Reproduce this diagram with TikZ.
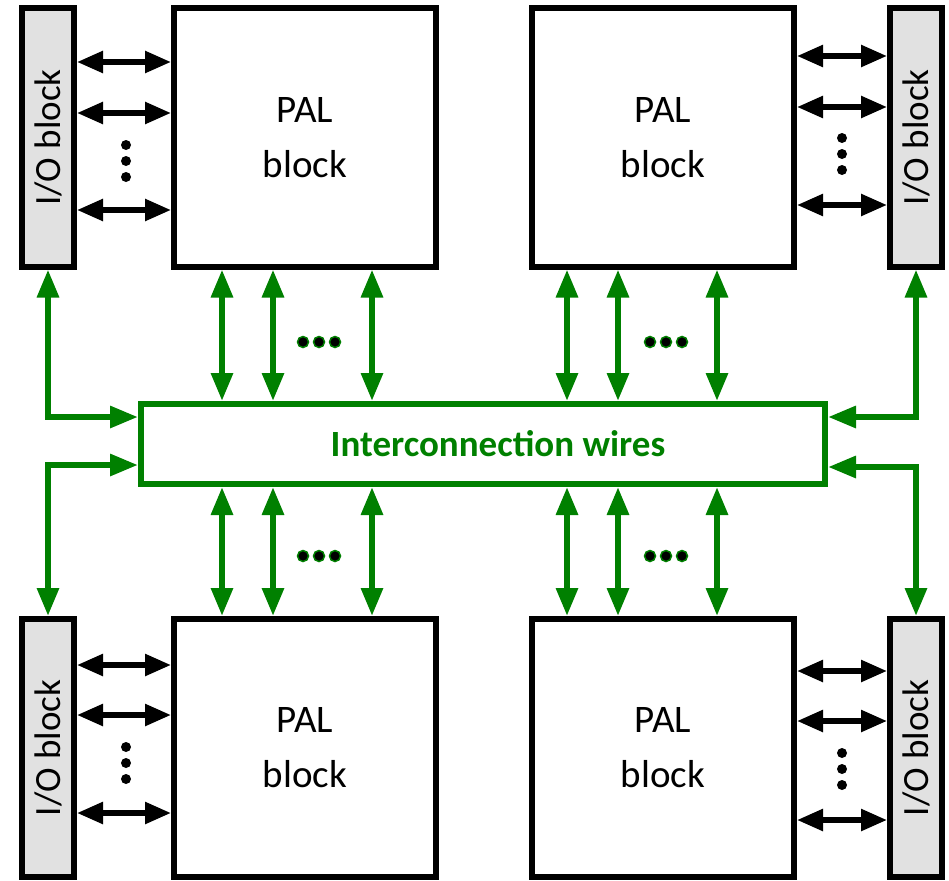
\documentclass[tikz,border=0pt]{standalone}
\usepackage{fontspec}
\setmainfont{Carlito}
\usepackage{graphicx}
\usetikzlibrary{arrows.meta}
\definecolor{wiregreen}{RGB}{0,128,0}
\definecolor{iogray}{RGB}{225,225,225}

\begin{document}
\begin{tikzpicture}[x=1pt, y=-1pt]

        \tikzset{palblock/.style={draw=black, line width=6pt, fill=white, minimum width=262pt, minimum height=258pt, inner sep=0pt, align=center, font=\fontsize{39}{55}\selectfont},
                 ioblock/.style={draw=black, line width=6pt, fill=iogray, minimum width=52pt, minimum height=258pt, inner sep=0pt, font=\fontsize{37}{44}\selectfont},
                 wirebox/.style={draw=wiregreen, line width=6pt, minimum width=684pt, minimum height=80pt, text=wiregreen, font=\bfseries\fontsize{37}{44}\selectfont},
                 bus/.style={line width=5.5pt, >={Triangle[length=26pt, width=21pt]}, <->},
                 gbus/.style={draw=wiregreen, line width=6pt, >={Triangle[length=28pt, width=21pt]}, <->},
                 bdot/.style={circle, fill=black, inner sep=0pt, minimum size=10pt},
                 gdot/.style={circle, fill=black, draw=wiregreen, line width=1.5pt, inner sep=0pt, minimum size=11pt}}

        \useasboundingbox (0, 0) rectangle (949, 880);

        % top row
        \node[ioblock] (iotl) at (48, 137.5) {\rotatebox{90}{I/O block}};
        \node[palblock] (paltl) at (305, 137.5) {PAL\\block};
        \node[palblock] (paltr) at (663, 137.5) {PAL\\block};
        \node[ioblock] (iotr) at (916, 137.5) {\rotatebox{90}{I/O block}};

        % bottom row
        \node[ioblock] (iobl) at (48, 748) {\rotatebox{90}{I/O block}};
        \node[palblock] (palbl) at (305, 748) {PAL\\block};
        \node[palblock] (palbr) at (663, 748) {PAL\\block};
        \node[ioblock] (iobr) at (916, 748) {\rotatebox{90}{I/O block}};

        % interconnect in the middle
        \node[wirebox] (wires) at (483, 444) {\hspace*{30pt}Interconnection wires};

        % I/O to PAL, top left
        \draw[bus] (iotl.east |- 0,62) -- (paltl.west |- 0,62);
        \draw[bus] (iotl.east |- 0,113) -- (paltl.west |- 0,113);
        \draw[bus] (iotl.east |- 0,210) -- (paltl.west |- 0,210);
        \node[bdot] (dtl1) at (126, 145) {};
        \node[bdot] (dtl2) at (126, 161) {};
        \node[bdot] (dtl3) at (126, 177) {};

        % top right
        \draw[bus] (paltr.east |- 0,56) -- (iotr.west |- 0,56);
        \draw[bus] (paltr.east |- 0,107) -- (iotr.west |- 0,107);
        \draw[bus] (paltr.east |- 0,205) -- (iotr.west |- 0,205);
        \node[bdot] (dtr1) at (842, 138) {};
        \node[bdot] (dtr2) at (842, 154) {};
        \node[bdot] (dtr3) at (842, 170) {};

        % bottom left
        \draw[bus] (iobl.east |- 0,665) -- (palbl.west |- 0,665);
        \draw[bus] (iobl.east |- 0,715) -- (palbl.west |- 0,715);
        \draw[bus] (iobl.east |- 0,813) -- (palbl.west |- 0,813);
        \node[bdot] (dbl1) at (126, 747) {};
        \node[bdot] (dbl2) at (126, 763) {};
        \node[bdot] (dbl3) at (126, 779) {};

        % bottom right
        \draw[bus] (palbr.east |- 0,671) -- (iobr.west |- 0,671);
        \draw[bus] (palbr.east |- 0,721) -- (iobr.west |- 0,721);
        \draw[bus] (palbr.east |- 0,820) -- (iobr.west |- 0,820);
        \node[bdot] (dbr1) at (842, 753) {};
        \node[bdot] (dbr2) at (842, 769) {};
        \node[bdot] (dbr3) at (842, 785) {};

        % PAL blocks to interconnect, upper half
        \draw[gbus] (paltl.south -| 222,0) -- (wires.north -| 222,0);
        \draw[gbus] (paltl.south -| 273,0) -- (wires.north -| 273,0);
        \draw[gbus] (paltl.south -| 372,0) -- (wires.north -| 372,0);
        \draw[gbus] (paltr.south -| 567,0) -- (wires.north -| 567,0);
        \draw[gbus] (paltr.south -| 618,0) -- (wires.north -| 618,0);
        \draw[gbus] (paltr.south -| 717,0) -- (wires.north -| 717,0);
        \node[gdot] (gtl1) at (303, 342) {};
        \node[gdot] (gtl2) at (319, 342) {};
        \node[gdot] (gtl3) at (335, 342) {};
        \node[gdot] (gtr1) at (650, 342) {};
        \node[gdot] (gtr2) at (666, 342) {};
        \node[gdot] (gtr3) at (682, 342) {};

        % lower half
        \draw[gbus] (wires.south -| 222,0) -- (palbl.north -| 222,0);
        \draw[gbus] (wires.south -| 273,0) -- (palbl.north -| 273,0);
        \draw[gbus] (wires.south -| 372,0) -- (palbl.north -| 372,0);
        \draw[gbus] (wires.south -| 567,0) -- (palbr.north -| 567,0);
        \draw[gbus] (wires.south -| 618,0) -- (palbr.north -| 618,0);
        \draw[gbus] (wires.south -| 717,0) -- (palbr.north -| 717,0);
        \node[gdot] (gbl1) at (303, 556) {};
        \node[gdot] (gbl2) at (319, 556) {};
        \node[gdot] (gbl3) at (335, 556) {};
        \node[gdot] (gbr1) at (650, 556) {};
        \node[gdot] (gbr2) at (666, 556) {};
        \node[gdot] (gbr3) at (682, 556) {};

        % I/O blocks to interconnect
        \draw[gbus] (iotl.south) |- (wires.west |- 0,417);
        \draw[gbus] (wires.west |- 0,465) -| (iobl.north);
        \draw[gbus] (iotr.south) |- (wires.east |- 0,417);
        \draw[gbus] (wires.east |- 0,467) -| (iobr.north);

    \end{tikzpicture}
\end{document}
